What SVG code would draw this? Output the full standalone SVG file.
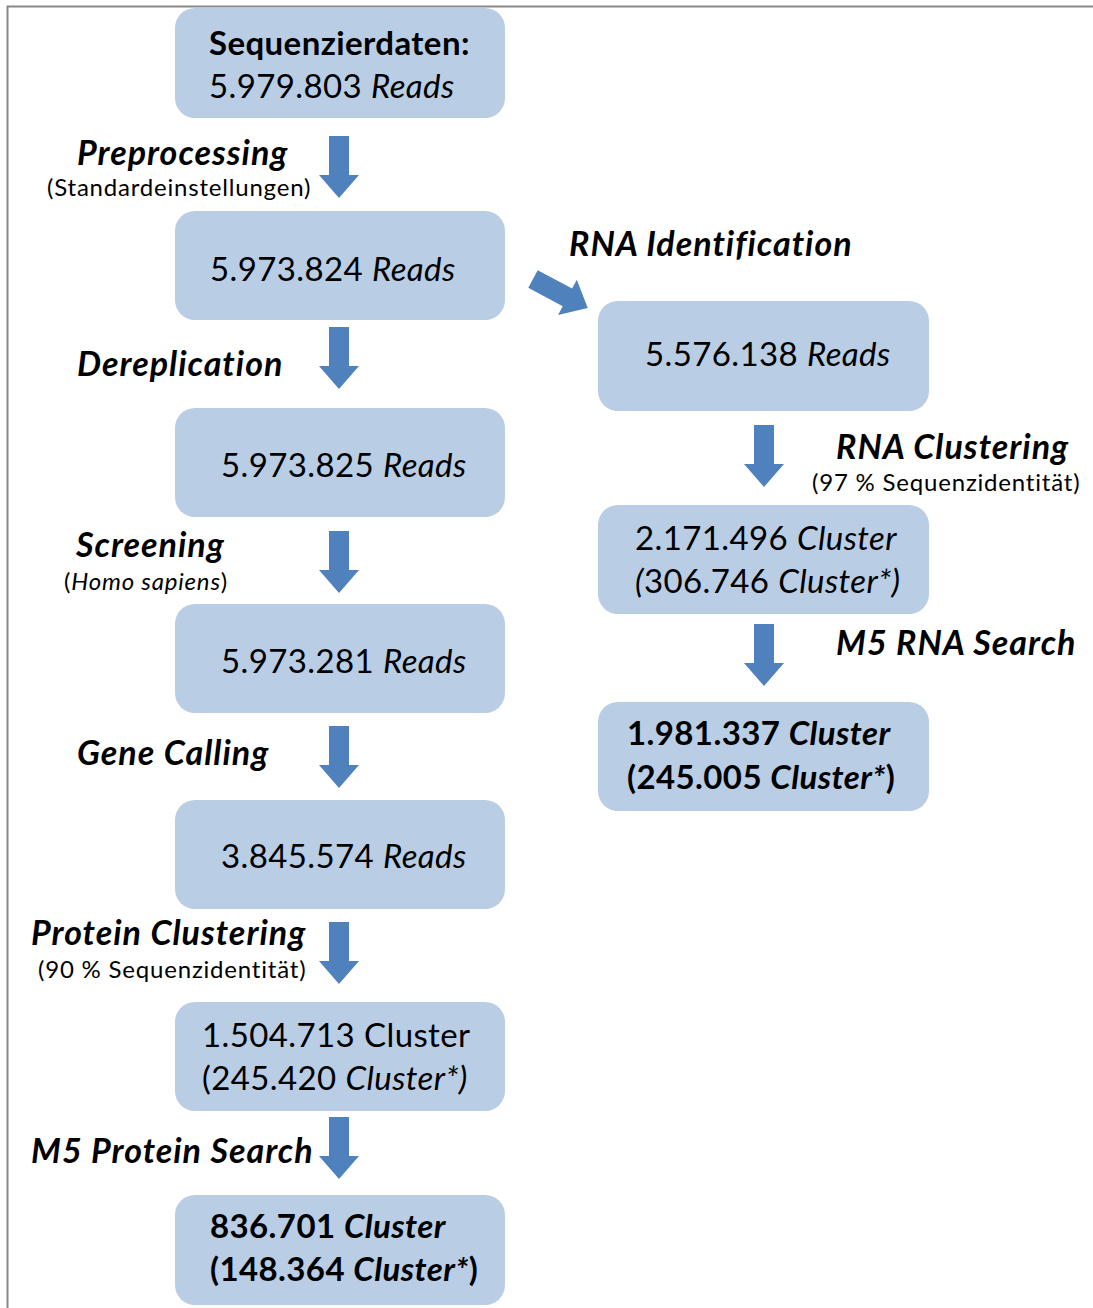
<svg xmlns="http://www.w3.org/2000/svg" width="1093" height="1308" viewBox="0 0 1093 1308">
<defs>
<style>
.box{fill:#b9cde5}
.arr{fill:#4f81bd}
text{font-family:Lato,"Open Sans","Liberation Sans",sans-serif;fill:#000}
.t{font-size:33px;letter-spacing:0.4px}
.lb{font-size:34px;font-weight:bold;font-style:italic;letter-spacing:1px}
.sm{font-size:24px;letter-spacing:0.8px}
.b{font-weight:bold}
.i{font-style:italic}
</style>
<path id="down" d="M-10,0 H10 V39 H20 L0,62 L-20,39 H-10 Z"/>
</defs>
<rect width="1093" height="1308" fill="#fff"/>
<path d="M7.5,1308 V6.5 H1093" fill="none" stroke="#888" stroke-width="2"/>

<g id="connectors">
<use href="#down" class="arr" x="339" y="136"/>
<use href="#down" class="arr" x="339" y="327"/>
<use href="#down" class="arr" x="339" y="531"/>
<use href="#down" class="arr" x="339" y="726"/>
<use href="#down" class="arr" x="339" y="922"/>
<use href="#down" class="arr" x="339" y="1117"/>
<use href="#down" class="arr" x="764" y="425"/>
<use href="#down" class="arr" x="764" y="624"/>
<use href="#down" class="arr" transform="translate(533,279) rotate(-62)"/>
</g>

<g id="labels">
<text class="lb" x="77" y="165">Preprocessing</text>
<text class="sm" x="47" y="196">(Standardeinstellungen)</text>
<text class="lb" x="77" y="376">Dereplication</text>
<text class="lb" x="76" y="557">Screening</text>
<text class="sm" x="64" y="590">(<tspan class="i">Homo sapiens</tspan>)</text>
<text class="lb" x="77" y="765">Gene Calling</text>
<text class="lb" x="31" y="945">Protein Clustering</text>
<text class="sm" x="38" y="978">(90 % Sequenzidentität)</text>
<text class="lb" x="31" y="1163">M5 Protein Search</text>
<text class="lb" x="569" y="256">RNA Identification</text>
<text class="lb" x="836" y="459">RNA Clustering</text>
<text class="sm" x="812" y="491">(97 % Sequenzidentität)</text>
<text class="lb" x="836" y="655">M5 RNA Search</text>
</g>

<g id="n1"><rect class="box" x="175" y="8" width="330" height="110" rx="20"/>
<text class="t b" x="209" y="55">Sequenzierdaten:</text>
<text class="t" x="209" y="98">5.979.803 <tspan class="i">Reads</tspan></text></g>
<g id="n2"><rect class="box" x="175" y="211" width="330" height="109" rx="20"/>
<text class="t" x="210" y="281">5.973.824 <tspan class="i">Reads</tspan></text></g>
<g id="n3"><rect class="box" x="175" y="408" width="330" height="109" rx="20"/>
<text class="t" x="221" y="477">5.973.825 <tspan class="i">Reads</tspan></text></g>
<g id="n4"><rect class="box" x="175" y="604" width="330" height="109" rx="20"/>
<text class="t" x="221" y="673">5.973.281 <tspan class="i">Reads</tspan></text></g>
<g id="n5"><rect class="box" x="175" y="800" width="330" height="109" rx="20"/>
<text class="t" x="221" y="868">3.845.574 <tspan class="i">Reads</tspan></text></g>
<g id="n6"><rect class="box" x="175" y="1002" width="330" height="109" rx="20"/>
<text class="t" x="202" y="1047">1.504.713 Cluster</text>
<text class="t" x="202" y="1090">(245.420 <tspan class="i">Cluster*)</tspan></text></g>
<g id="n7"><rect class="box" x="175" y="1195" width="330" height="110" rx="20"/>
<text class="t b" x="210" y="1238">836.701 <tspan class="i">Cluster</tspan></text>
<text class="t b" x="210" y="1281">(148.364 <tspan class="i">Cluster*</tspan>)</text></g>
<g id="r1"><rect class="box" x="598" y="301" width="331" height="110" rx="20"/>
<text class="t" x="645" y="366">5.576.138 <tspan class="i">Reads</tspan></text></g>
<g id="r2"><rect class="box" x="598" y="505" width="331" height="109" rx="20"/>
<text class="t" x="635" y="550">2.171.496 <tspan class="i">Cluster</tspan></text>
<text class="t" x="635" y="593"><tspan class="i">(</tspan>306.746 <tspan class="i">Cluster*)</tspan></text></g>
<g id="r3"><rect class="box" x="598" y="702" width="331" height="109" rx="20"/>
<text class="t b" x="627" y="745">1.981.337 <tspan class="i">Cluster</tspan></text>
<text class="t b" x="627" y="789">(245.005 <tspan class="i">Cluster*</tspan>)</text></g>
</svg>
